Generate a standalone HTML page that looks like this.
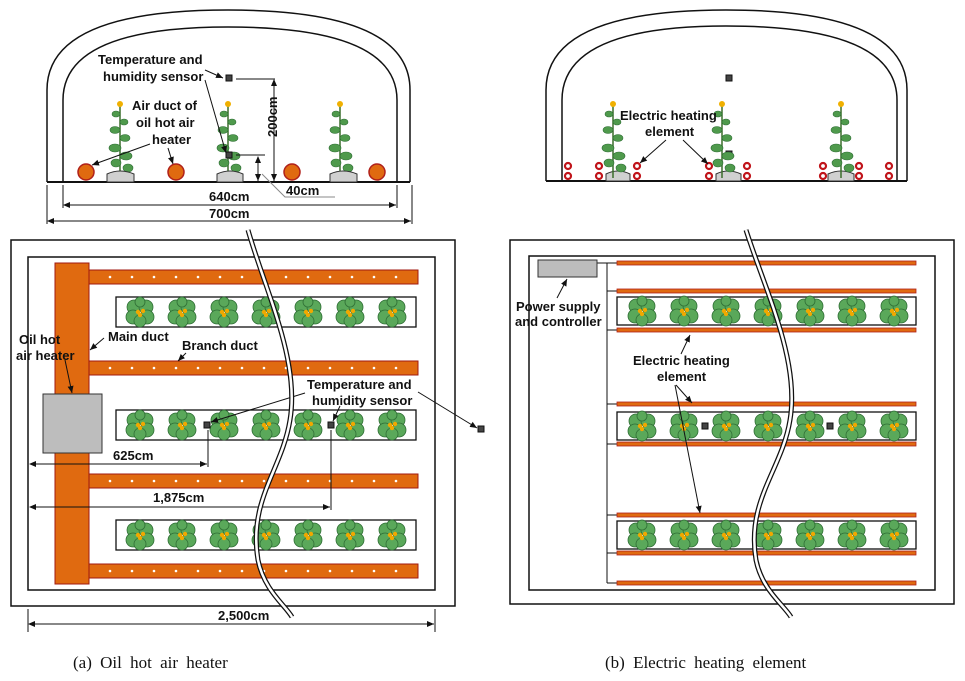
<!DOCTYPE html>
<html><head><meta charset="utf-8"><style>
html,body{margin:0;padding:0;background:#fff}
svg{display:block}
text{font-family:"Liberation Sans","DejaVu Sans",sans-serif;font-size:13px;font-weight:bold;fill:#111}
.cap{font-family:"Liberation Serif",serif;font-size:17px;font-weight:normal;word-spacing:4px}
</style></head><body>
<svg id="s" width="965" height="681" viewBox="0 0 965 681" xmlns="http://www.w3.org/2000/svg">
<defs>
<marker id="a" markerWidth="8" markerHeight="8" refX="7" refY="4" orient="auto" markerUnits="userSpaceOnUse"><path d="M0,1 L7,4 L0,7z" fill="#111"/></marker>
<marker id="b" markerWidth="8" markerHeight="8" refX="1" refY="4" orient="auto" markerUnits="userSpaceOnUse"><path d="M7,1 L0,4 L7,7z" fill="#111"/></marker>
<g id="pp">
<circle cx="-6" cy="-5" r="7" fill="#5aa85a" stroke="#2f6e35" stroke-width="0.8"/>
<circle cx="6" cy="-5" r="7" fill="#5aa85a" stroke="#2f6e35" stroke-width="0.8"/>
<circle cx="-7" cy="5" r="7" fill="#5aa85a" stroke="#2f6e35" stroke-width="0.8"/>
<circle cx="7" cy="5" r="7" fill="#5aa85a" stroke="#2f6e35" stroke-width="0.8"/>
<circle cx="0" cy="9" r="6" fill="#5aa85a" stroke="#2f6e35" stroke-width="0.8"/>
<circle cx="0" cy="-10" r="5" fill="#5aa85a" stroke="#2f6e35" stroke-width="0.8"/>
<circle cx="-2" cy="0" r="2.2" fill="#f0a800"/><circle cx="3" cy="-1" r="2.2" fill="#f0a800"/><circle cx="0" cy="3" r="2.2" fill="#f0a800"/>
</g>
<g id="vp">
<path d="M0,-62 L0,10" stroke="#3a6e2a" stroke-width="1.5"/>
<circle cx="0" cy="-64" r="3" fill="#f0b000"/>
<ellipse cx="-4" cy="-54" rx="4" ry="3" fill="#4f9a4c" stroke="#2f6e35" stroke-width=".6"/>
<ellipse cx="4" cy="-46" rx="4" ry="3" fill="#4f9a4c" stroke="#2f6e35" stroke-width=".6"/>
<ellipse cx="-5" cy="-38" rx="5" ry="3.5" fill="#4f9a4c" stroke="#2f6e35" stroke-width=".6"/>
<ellipse cx="5" cy="-30" rx="5" ry="3.5" fill="#4f9a4c" stroke="#2f6e35" stroke-width=".6"/>
<ellipse cx="-5" cy="-20" rx="6" ry="4" fill="#4f9a4c" stroke="#2f6e35" stroke-width=".6"/>
<ellipse cx="6" cy="-12" rx="6" ry="4" fill="#4f9a4c" stroke="#2f6e35" stroke-width=".6"/>
<ellipse cx="-4" cy="-5" rx="5" ry="4" fill="#4f9a4c" stroke="#2f6e35" stroke-width=".6"/>
<ellipse cx="8" cy="0" rx="5" ry="4" fill="#4f9a4c" stroke="#2f6e35" stroke-width=".6"/>
</g>
</defs>

<!-- Top left greenhouse -->
<path d="M47,182 L47,90 Q47,10 228,10 Q410,10 410,90 L410,182" fill="none" stroke="#111" stroke-width="1.5"/>
<path d="M63,182 L63,100 Q63,27 228,27 Q397,27 397,100 L397,182" fill="none" stroke="#111" stroke-width="1.5"/>
<line x1="47" y1="182" x2="410" y2="182" stroke="#111" stroke-width="2"/>
<g id="vl"></g>
<path d="M107,182 L107,174 Q120,168 134,174 L134,182z" fill="#d0d0d0" stroke="#333"/>
<path d="M217,182 L217,174 Q230,168 243,174 L243,182z" fill="#d0d0d0" stroke="#333"/>
<path d="M330,182 L330,174 Q343,168 357,174 L357,182z" fill="#d0d0d0" stroke="#333"/>
<g fill="#e06a10" stroke="#b0201a" stroke-width="1.5">
<circle cx="86" cy="172" r="8"/><circle cx="176" cy="172" r="8"/><circle cx="292" cy="172" r="8"/><circle cx="377" cy="172" r="8"/></g>
<rect x="226" y="75" width="6" height="6" fill="#444" stroke="#111"/>
<rect x="226" y="152" width="6" height="6" fill="#444" stroke="#111"/>
<line x1="236" y1="79" x2="275" y2="79" stroke="#111"/>
<line x1="236" y1="155" x2="265" y2="155" stroke="#111"/>
<line x1="274" y1="80" x2="274" y2="181" stroke="#111" marker-start="url(#b)" marker-end="url(#a)"/>
<line x1="258" y1="157" x2="258" y2="181" stroke="#111" marker-start="url(#b)" marker-end="url(#a)"/>
<text transform="translate(277,137) rotate(-90)">200cm</text>
<text x="286" y="195">40cm</text>
<polyline points="262,174 285,197 335,197" fill="none" stroke="#888"/>
<text x="98" y="64">Temperature and</text>
<text x="103" y="81">humidity sensor</text>
<line x1="205" y1="70" x2="223" y2="78" stroke="#111" marker-end="url(#a)"/>
<line x1="205" y1="80" x2="226" y2="153" stroke="#111" marker-end="url(#a)"/>
<text x="132" y="110">Air duct of</text>
<text x="136" y="127">oil hot air</text>
<text x="152" y="144">heater</text>
<line x1="150" y1="144" x2="92" y2="165" stroke="#111" marker-end="url(#a)"/>
<line x1="168" y1="148" x2="173" y2="164" stroke="#111" marker-end="url(#a)"/>
<line x1="63" y1="185" x2="63" y2="208" stroke="#111"/><line x1="397" y1="185" x2="397" y2="208" stroke="#111"/>
<line x1="47" y1="185" x2="47" y2="224" stroke="#111"/><line x1="412" y1="185" x2="412" y2="224" stroke="#111"/>
<line x1="64" y1="205" x2="396" y2="205" stroke="#111" marker-start="url(#b)" marker-end="url(#a)"/>
<line x1="48" y1="221" x2="411" y2="221" stroke="#111" marker-start="url(#b)" marker-end="url(#a)"/>
<text x="209" y="201">640cm</text>
<text x="209" y="218">700cm</text>

<!-- Top right greenhouse -->
<path d="M546,181 L546,90 Q546,10 726,10 Q907,10 907,90 L907,181" fill="none" stroke="#111" stroke-width="1.5"/>
<path d="M562,181 L562,100 Q562,26 726,26 Q897,26 897,100 L897,181" fill="none" stroke="#111" stroke-width="1.5"/>
<line x1="546" y1="181" x2="907" y2="181" stroke="#111" stroke-width="2"/>
<path d="M606,181 L606,174 Q618,168 630,174 L630,181z" fill="#d0d0d0" stroke="#333"/>
<path d="M716,181 L716,174 Q728,168 741,174 L741,181z" fill="#d0d0d0" stroke="#333"/>
<path d="M828,181 L828,174 Q841,168 854,174 L854,181z" fill="#d0d0d0" stroke="#333"/>
<rect x="726" y="75" width="6" height="6" fill="#444" stroke="#111"/>
<rect x="726" y="151" width="6" height="6" fill="#444" stroke="#111"/>
<g id="rd"></g>
<text x="620" y="120">Electric heating</text>
<text x="645" y="136">element</text>
<line x1="666" y1="140" x2="640" y2="163" stroke="#111" marker-end="url(#a)"/>
<line x1="683" y1="140" x2="708" y2="164" stroke="#111" marker-end="url(#a)"/>

<!-- Plan left -->
<rect x="11" y="240" width="444" height="366" fill="none" stroke="#111" stroke-width="1.5"/>
<rect x="28" y="257" width="407" height="333" fill="none" stroke="#111" stroke-width="1.5"/>
<g id="pl"></g>
<rect x="55" y="263" width="34" height="321" fill="#e06a10" stroke="#a01a10"/>
<rect x="43" y="394" width="59" height="59" fill="#bdbdbd" stroke="#333"/>
<text x="19" y="344">Oil hot</text>
<text x="16" y="360">air heater</text>
<line x1="65" y1="360" x2="72" y2="393" stroke="#111" marker-end="url(#a)"/>
<text x="108" y="341">Main duct</text>
<line x1="104" y1="338" x2="90" y2="350" stroke="#111" marker-end="url(#a)"/>
<text x="182" y="350">Branch duct</text>
<line x1="186" y1="353" x2="178" y2="361" stroke="#111" marker-end="url(#a)"/>
<text x="307" y="389">Temperature and</text>
<text x="312" y="405">humidity sensor</text>
<line x1="305" y1="393" x2="211" y2="422" stroke="#111" marker-end="url(#a)"/>
<line x1="340" y1="406" x2="333" y2="421" stroke="#111" marker-end="url(#a)"/>
<line x1="418" y1="392" x2="477" y2="428" stroke="#111" marker-end="url(#a)"/>
<rect x="478" y="426" width="6" height="6" fill="#444" stroke="#111"/>
<line x1="208" y1="430" x2="208" y2="467" stroke="#111"/>
<line x1="331" y1="430" x2="331" y2="510" stroke="#111"/>
<line x1="30" y1="464" x2="207" y2="464" stroke="#111" marker-start="url(#b)" marker-end="url(#a)"/>
<line x1="30" y1="507" x2="330" y2="507" stroke="#111" marker-start="url(#b)" marker-end="url(#a)"/>
<text x="113" y="460">625cm</text>
<text x="153" y="502">1,875cm</text>
<line x1="28" y1="609" x2="28" y2="632" stroke="#111"/><line x1="435" y1="609" x2="435" y2="632" stroke="#111"/>
<line x1="29" y1="624" x2="434" y2="624" stroke="#111" marker-start="url(#b)" marker-end="url(#a)"/>
<text x="218" y="620">2,500cm</text>

<!-- Plan right -->
<rect x="510" y="240" width="444" height="364" fill="none" stroke="#111" stroke-width="1.5"/>
<rect x="529" y="256" width="406" height="334" fill="none" stroke="#111" stroke-width="1.5"/>
<g id="pr"></g>
<rect x="538" y="260" width="59" height="17" fill="#bdbdbd" stroke="#333"/>
<text x="516" y="311">Power supply</text>
<text x="515" y="326">and controller</text>
<line x1="557" y1="298" x2="567" y2="279" stroke="#111" marker-end="url(#a)"/>
<text x="633" y="365">Electric heating</text>
<text x="657" y="381">element</text>
<line x1="681" y1="354" x2="690" y2="335" stroke="#111" marker-end="url(#a)"/>
<line x1="676" y1="385" x2="692" y2="403" stroke="#111" marker-end="url(#a)"/>
<line x1="675" y1="385" x2="700" y2="513" stroke="#111" marker-end="url(#a)"/>

<!-- break lines -->
<path d="M248,230 C265,290 300,360 290,420 C282,470 248,500 258,560 C264,590 285,605 292,617" fill="none" stroke="#111" stroke-width="5"/>
<path d="M248,230 C265,290 300,360 290,420 C282,470 248,500 258,560 C264,590 285,605 292,617" fill="none" stroke="#fff" stroke-width="2.5"/>
<path d="M746,230 C765,290 800,360 790,420 C782,470 746,500 756,560 C762,590 784,605 791,617" fill="none" stroke="#111" stroke-width="5"/>
<path d="M746,230 C765,290 800,360 790,420 C782,470 746,500 756,560 C762,590 784,605 791,617" fill="none" stroke="#fff" stroke-width="2.5"/>

<text class="cap" x="73" y="668">(a) Oil hot air heater</text>
<text class="cap" x="605" y="668">(b) Electric heating element</text>
</svg>
<script>
var NS="http://www.w3.org/2000/svg";
function el(p,t,a){var e=document.createElementNS(NS,t);for(var k in a)e.setAttribute(k,a[k]);p.appendChild(e);return e;}
function use(p,id,x,y){var u=el(p,"use",{x:x,y:y});u.setAttribute("href","#"+id);return u;}
var vl=document.getElementById("vl");
[120,228,340].forEach(function(x){use(vl,"vp",x,168);});
var rd=document.getElementById("rd");
[613,722,841].forEach(function(x){use(rd,"vp",x,168);});
[568,599,637,709,747,823,859,889].forEach(function(x){[166,176].forEach(function(y){el(rd,"circle",{cx:x,cy:y,r:3,fill:"#fff",stroke:"#c0141a","stroke-width":2.2});});});
var pl=document.getElementById("pl");
[270,361,474,564].forEach(function(y){el(pl,"rect",{x:89,y:y,width:329,height:14,fill:"#e06a10",stroke:"#a01a10"});
for(var x=110;x<410;x+=22)el(pl,"circle",{cx:x,cy:y+7,r:1.3,fill:"#fff"});});
[297,410,520].forEach(function(y){el(pl,"rect",{x:116,y:y,width:300,height:30,fill:"#fff",stroke:"#111","stroke-width":1.3});
for(var i=0;i<7;i++)use(pl,"pp",140+i*42,y+15);});
el(pl,"rect",{x:204,y:422,width:6,height:6,fill:"#444",stroke:"#111"});
el(pl,"rect",{x:328,y:422,width:6,height:6,fill:"#444",stroke:"#111"});
var pr=document.getElementById("pr");
el(pr,"line",{x1:597,y1:263,x2:607,y2:263,stroke:"#111"});
el(pr,"line",{x1:607,y1:263,x2:607,y2:583,stroke:"#111"});
[263,291,330,404,444,515,553,583].forEach(function(y){el(pr,"line",{x1:607,y1:y,x2:617,y2:y,stroke:"#111"});
el(pr,"rect",{x:617,y:y-2,width:299,height:4,fill:"#e06a10",stroke:"#b0201a","stroke-width":0.8});});
[297,412,521].forEach(function(y){el(pr,"rect",{x:617,y:y,width:299,height:28,fill:"#fff",stroke:"#111","stroke-width":1.3});
for(var i=0;i<7;i++)use(pr,"pp",642+i*42,y+14);});
el(pr,"rect",{x:702,y:423,width:6,height:6,fill:"#444",stroke:"#111"});
el(pr,"rect",{x:827,y:423,width:6,height:6,fill:"#444",stroke:"#111"});
</script>
</body></html>
